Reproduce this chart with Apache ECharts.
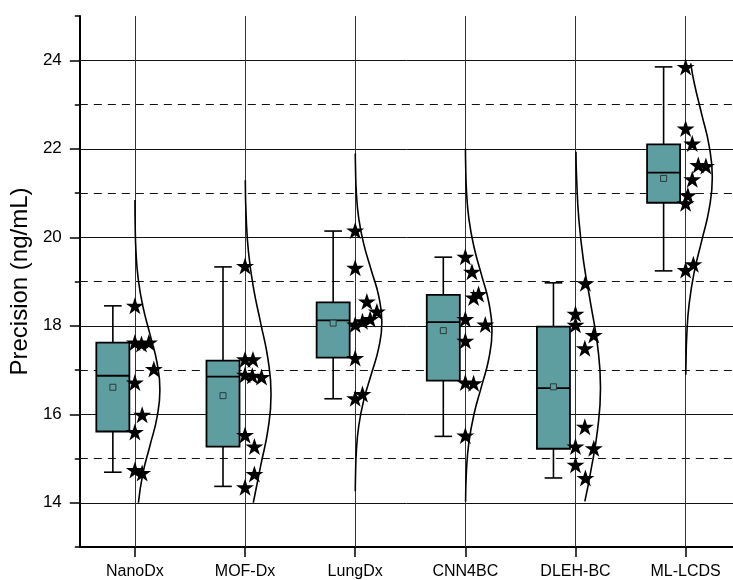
<!DOCTYPE html>
<html>
<head>
<meta charset="utf-8">
<script src="https://cdn.jsdelivr.net/npm/echarts@6/dist/echarts.min.js"></script>
<style>html,body{margin:0;padding:0;background:#fff}#c{width:733px;height:580px}</style>
</head>
<body>
<div id="c"></div>
<script>
// ---- data ----
const categories = ['NanoDx', 'MOF-Dx', 'LungDx', 'CNN4BC', 'DLEH-BC', 'ML-LCDS'];
const yMajorTicks = [14, 16, 18, 20, 22, 24];
const yMinorTicks = [13, 15, 17, 19, 21, 23, 25];

const boxMin    = [14.69, 14.37, 16.35, 15.50, 14.56, 19.24];
const boxQ1     = [15.61, 15.27, 17.28, 16.76, 15.22, 20.78];
const boxMedian = [16.87, 16.85, 18.12, 18.08, 16.59, 21.46];
const boxQ3     = [17.62, 17.21, 18.53, 18.70, 17.98, 22.10];
const boxMax    = [18.45, 19.33, 20.14, 19.55, 18.97, 23.85];
const boxMean   = [16.61, 16.42, 18.06, 17.89, 16.62, 21.33];

const starsNanoDx = [18.45, 17.62, 17.59, 17.62, 17.02, 16.72, 15.99, 15.60, 14.74, 14.67];
const jitterNanoDx = [0, 0, 0.06, 0.127, 0.172, 0, 0.066, 0, 0, 0.066];
const starsMOFDx = [19.35, 17.24, 17.24, 16.89, 16.87, 16.84, 15.53, 15.27, 14.65, 14.35];
const jitterMOFDx = [0, 0, 0.072, 0, 0.066, 0.15, 0, 0.085, 0.085, 0];
const starsLungDx = [20.15, 19.31, 18.55, 18.32, 18.15, 18.10, 18.03, 17.27, 16.46, 16.36];
const jitterLungDx = [0, 0, 0.106, 0.197, 0.136, 0.066, 0, 0, 0.066, 0];
const starsCNN4BC = [19.56, 19.22, 18.72, 18.64, 18.15, 18.03, 17.66, 16.72, 16.70, 15.52];
const jitterCNN4BC = [0, 0.06, 0.12, 0.075, 0, 0.181, 0, 0, 0.075, 0];
const starsDLEHBC = [18.96, 18.27, 18.02, 17.79, 17.49, 15.72, 15.27, 15.23, 14.86, 14.56];
const jitterDLEHBC = [0.09, 0, 0, 0.166, 0.085, 0.085, 0, 0.166, 0, 0.09];
const starsMLLCDS = [23.85, 22.46, 22.12, 21.63, 21.61, 21.31, 20.95, 20.77, 19.39, 19.26];
const jitterMLLCDS = [0, 0, 0.06, 0.115, 0.184, 0.06, 0.02, 0, 0.07, 0];

// distribution curves: [value, curve width in x-axis units]
const curveNanoDx = [[20.84,0.0006],[20.30,0.0025],[19.675,0.010],[19.05,0.0307],[18.425,0.0737],[17.80,0.1377],[17.175,0.2003],[16.55,0.227],[15.925,0.2003],[15.30,0.1377],[14.675,0.0737],[14.0,0.032]];
const curveMOFDx = [[21.29,0.0024],[20.45,0.0104],[19.65,0.032],[18.85,0.077],[18.05,0.143],[17.25,0.208],[16.45,0.236],[15.65,0.208],[14.85,0.143],[14.0,0.075]];
const curveLungDx = [[21.89,0.001],[21.59,0.0027],[21.01,0.0106],[20.42,0.0327],[19.84,0.0786],[19.25,0.1468],[18.67,0.2136],[18.08,0.242],[17.50,0.2136],[16.91,0.1468],[16.33,0.0786],[15.74,0.0327],[15.16,0.0106],[14.57,0.0027],[14.26,0.001]];
const curveCNN4BC = [[22.0,0.001],[21.67,0.0027],[21.04,0.0106],[20.41,0.0327],[19.78,0.0786],[19.15,0.1468],[18.52,0.2136],[17.89,0.242],[17.26,0.2136],[16.63,0.1468],[16.0,0.0786],[15.37,0.0327],[14.74,0.0106],[14.03,0.0023]];
const curveDLEHBC = [[21.93,0.0044],[21.35,0.010],[20.40,0.0307],[19.45,0.0737],[18.50,0.1377],[17.55,0.2003],[16.60,0.227],[15.65,0.2003],[14.70,0.1377],[14.03,0.085]];
const curveMLLCDS = [[23.93,0.046],[23.48,0.0786],[22.77,0.1468],[22.06,0.2136],[21.35,0.242],[20.64,0.2136],[19.93,0.1468],[19.22,0.0786],[18.51,0.0327],[17.80,0.0106],[17.09,0.0027],[16.89,0.0018]];

// ---- build chart ----
const starGroups = [starsNanoDx, starsMOFDx, starsLungDx, starsCNN4BC, starsDLEHBC, starsMLLCDS];
const jitterGroups = [jitterNanoDx, jitterMOFDx, jitterLungDx, jitterCNN4BC, jitterDLEHBC, jitterMLLCDS];
const curveGroups = [curveNanoDx, curveMOFDx, curveLungDx, curveCNN4BC, curveDLEHBC, curveMLLCDS];

const FONT = '"Liberation Sans", Arial, sans-serif';
const BOX_OFFSET = -0.2, BOX_W = 0.30, CAP_W = 0.16;
const STAR = 'path://M50 0L61.23 34.55L97.55 34.55L68.16 55.9L79.39 90.45L50 69.1L20.61 90.45L31.84 55.9L2.45 34.55L38.77 34.55Z';

const boxData = categories.map((c, i) => [i + 1, boxMin[i], boxQ1[i], boxMedian[i], boxQ3[i], boxMax[i], boxMean[i]]);

function renderBox(params, api) {
  const x = api.value(0) + BOX_OFFSET;
  const mn = api.coord([x, api.value(1)]);
  const q1 = api.coord([x, api.value(2)]);
  const md = api.coord([x, api.value(3)]);
  const q3 = api.coord([x, api.value(4)]);
  const mx = api.coord([x, api.value(5)]);
  const me = api.coord([x, api.value(6)]);
  const bw = api.size([BOX_W, 0])[0];
  const cw = api.size([CAP_W, 0])[0];
  const ls = { stroke: '#000', lineWidth: 1.6 };
  return {
    type: 'group',
    children: [
      { type: 'line', shape: { x1: mx[0], y1: mx[1], x2: q3[0], y2: q3[1] }, style: ls },
      { type: 'line', shape: { x1: mn[0], y1: mn[1], x2: q1[0], y2: q1[1] }, style: ls },
      { type: 'line', shape: { x1: mx[0] - cw / 2, y1: mx[1], x2: mx[0] + cw / 2, y2: mx[1] }, style: ls },
      { type: 'line', shape: { x1: mn[0] - cw / 2, y1: mn[1], x2: mn[0] + cw / 2, y2: mn[1] }, style: ls },
      { type: 'rect', shape: { x: q3[0] - bw / 2, y: q3[1], width: bw, height: q1[1] - q3[1] },
        style: { fill: '#5F9EA0', stroke: '#000', lineWidth: 1.8 } },
      { type: 'line', shape: { x1: md[0] - bw / 2, y1: md[1], x2: md[0] + bw / 2, y2: md[1] }, style: { stroke: '#000', lineWidth: 1.8 } },
      { type: 'rect', shape: { x: me[0] - 3, y: me[1] - 3, width: 6, height: 6 },
        style: { fill: '#5F9EA0', stroke: '#2a3a3a', lineWidth: 1 } }
    ]
  };
}

const gridLineData = []
  .concat(yMajorTicks.map(v => ({ yAxis: v, lineStyle: { type: 'solid', color: '#111', width: 1 } })))
  .concat(yMinorTicks.filter(v => v > 13 && v < 25).map(v => ({ yAxis: v, lineStyle: { type: [8, 6], color: '#111', width: 1.2 } })))
  .concat(categories.map((c, i) => ({ xAxis: i + 1, lineStyle: { type: 'solid', color: '#333', width: 1 } })));

const series = [
  {
    type: 'line', data: [], z: 1, silent: true,
    markLine: { z: 1, silent: true, symbol: ['none', 'none'], label: { show: false }, animation: false, data: gridLineData }
  },
  { type: 'custom', renderItem: renderBox, data: boxData, z: 3, silent: true,
    encode: { x: 0, y: [1, 2, 3, 4, 5] } }
];

curveGroups.forEach((cv, i) => {
  series.push({
    type: 'line', z: 4, silent: true, smooth: 0.5, showSymbol: false, symbol: 'none',
    lineStyle: { color: '#000', width: 1.6 },
    data: cv.map(p => [i + 1 + p[1], p[0]])
  });
});

starGroups.forEach((vals, i) => {
  series.push({
    type: 'scatter', z: 5, silent: true, symbol: STAR, symbolSize: [18, 17],
    itemStyle: { color: '#000', opacity: 1 },
    data: vals.map((v, k) => [i + 1 + jitterGroups[i][k], v])
  });
});

const chart = echarts.init(document.getElementById('c'), null, { renderer: 'canvas' });
chart.setOption({
  animation: false,
  backgroundColor: '#fff',
  grid: { left: 79, right: 0, top: 16, bottom: 33, containLabel: false },
  xAxis: {
    type: 'value', min: 0.5, max: 6.43,
    axisLine: { show: true, onZero: false, lineStyle: { color: '#000', width: 2 } },
    axisTick: { show: true, customValues: categories.map((c, i) => i + 1), length: 10, lineStyle: { color: '#000', width: 1.5 } },
    axisLabel: { show: true, customValues: categories.map((c, i) => i + 1), formatter: v => categories[Math.round(v) - 1] || '',
      color: '#000', fontSize: 16, fontFamily: FONT, margin: 17 },
    splitLine: { show: false }
  },
  yAxis: [
    {
      type: 'value', min: 13, max: 25, position: 'left',
      name: 'Precision (ng/mL)', nameLocation: 'middle', nameGap: 44,
      nameTextStyle: { fontSize: 24, fontFamily: FONT, color: '#000' },
      axisLine: { show: true, onZero: false, lineStyle: { color: '#000', width: 2 } },
      axisTick: { show: true, customValues: yMajorTicks, length: 10, lineStyle: { color: '#000', width: 1.5 } },
      axisLabel: { show: true, customValues: yMajorTicks, color: '#000', fontSize: 17, fontFamily: FONT, margin: 18 },
      splitLine: { show: false }
    },
    {
      type: 'value', min: 13, max: 25, position: 'left',
      axisLine: { show: false },
      axisTick: { show: true, customValues: yMinorTicks, length: 5, lineStyle: { color: '#000', width: 1.5 } },
      axisLabel: { show: false },
      splitLine: { show: false }
    }
  ],
  series: series
});
</script>
</body>
</html>
